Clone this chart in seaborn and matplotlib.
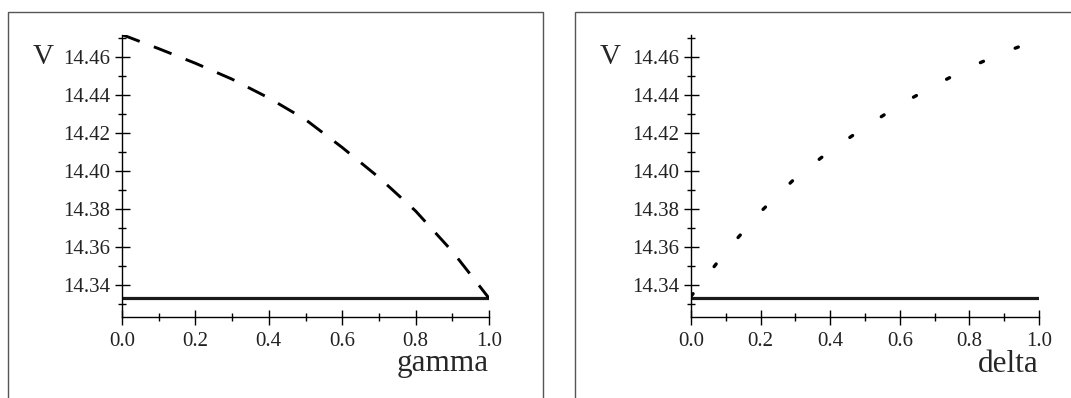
import matplotlib
matplotlib.use("Agg")
import matplotlib.pyplot as plt
from matplotlib.patches import Rectangle
from matplotlib.ticker import MultipleLocator, FormatStrFormatter
import seaborn as sns

# values
gamma = [0.0, 0.1, 0.2, 0.3, 0.4, 0.5, 0.6, 0.7, 0.8, 0.9, 0.95, 1.0]
v_gamma = [14.472, 14.4646, 14.4569, 14.4485, 14.4386, 14.4272, 14.4125,
           14.3967, 14.379, 14.3577, 14.3454, 14.333]

delta = [0.0, 0.1, 0.2, 0.3, 0.4, 0.5, 0.6, 0.7, 0.8, 0.9, 1.0]
v_delta = [14.334, 14.3576, 14.3786, 14.3964, 14.4108, 14.4232, 14.435,
           14.4452, 14.4547, 14.4627, 14.4695]

base_x = [0.0, 1.0]
base_v = [14.333, 14.333]

y_range = (14.3231, 14.4718)

W, H = 1071, 398

sns.set_style("ticks")
plt.rcParams["font.family"] = ["Liberation Serif", "DejaVu Serif"]


def px_axes(x0, x1, y_top, y_bot):
    return [x0 / W, 1 - y_bot / H, (x1 - x0) / W, (y_bot - y_top) / H]


def draw_panel(ax, x, v, xlabel, **line_kw):
    sns.lineplot(x=base_x, y=base_v, ax=ax, color="#1a1a1a", linewidth=2.3)
    sns.lineplot(x=x, y=v, ax=ax, color="black", **line_kw)
    ax.set_xlim(0, 1)
    ax.set_ylim(*y_range)
    for s in ("top", "right"):
        ax.spines[s].set_visible(False)
    for s in ("left", "bottom"):
        ax.spines[s].set_linewidth(1.0)
        ax.spines[s].set_color("black")
    ax.xaxis.set_major_locator(MultipleLocator(0.2))
    ax.xaxis.set_minor_locator(MultipleLocator(0.1))
    ax.yaxis.set_major_locator(MultipleLocator(0.02))
    ax.yaxis.set_minor_locator(MultipleLocator(0.01))
    ax.xaxis.set_major_formatter(FormatStrFormatter("%.1f"))
    ax.yaxis.set_major_formatter(FormatStrFormatter("%.2f"))
    ax.tick_params(which="major", direction="inout", length=10.8, width=1.0,
                   color="black", labelsize=15, labelcolor="#222222")
    ax.tick_params(which="minor", direction="inout", length=5.3, width=1.0,
                   color="black")
    ax.tick_params(axis="y", pad=3)
    ax.tick_params(axis="x", pad=5.5)
    ax.set_xlabel("")
    ax.set_ylabel("")
    ax.text(1.0, (317 - 371.5) / 282, xlabel, transform=ax.transAxes,
            ha="right", va="baseline", fontsize=22.5)


fig = plt.figure(figsize=(W / 100, H / 100), dpi=100)

# panel frames (open at the bottom, like the source page)
fig.patches.append(Rectangle((8 / W, -0.2), (543 - 8) / W, 1.2 - 12 / H,
                             transform=fig.transFigure, fill=False,
                             edgecolor="#555555", linewidth=1.0))
fig.patches.append(Rectangle((575 / W, -0.2), 0.6, 1.2 - 12 / H,
                             transform=fig.transFigure, fill=False,
                             edgecolor="#555555", linewidth=1.0))

ax1 = fig.add_axes(px_axes(122, 489, 35, 317))
draw_panel(ax1, gamma, v_gamma, "gamma", linewidth=2.1,
           linestyle=(0, (6.5, 5.2)))
fig.text(33 / W, 1 - 64 / H, "V", fontsize=21, ha="left", va="baseline")

ax2 = fig.add_axes(px_axes(691, 1039, 35, 317))
draw_panel(ax2, delta, v_delta, "delta", linewidth=2.4,
           linestyle=(0, (1.0, 10.3)), dash_capstyle="round")
fig.text(600 / W, 1 - 64 / H, "V", fontsize=21, ha="left", va="baseline")

fig.savefig("out.png", dpi=100)
